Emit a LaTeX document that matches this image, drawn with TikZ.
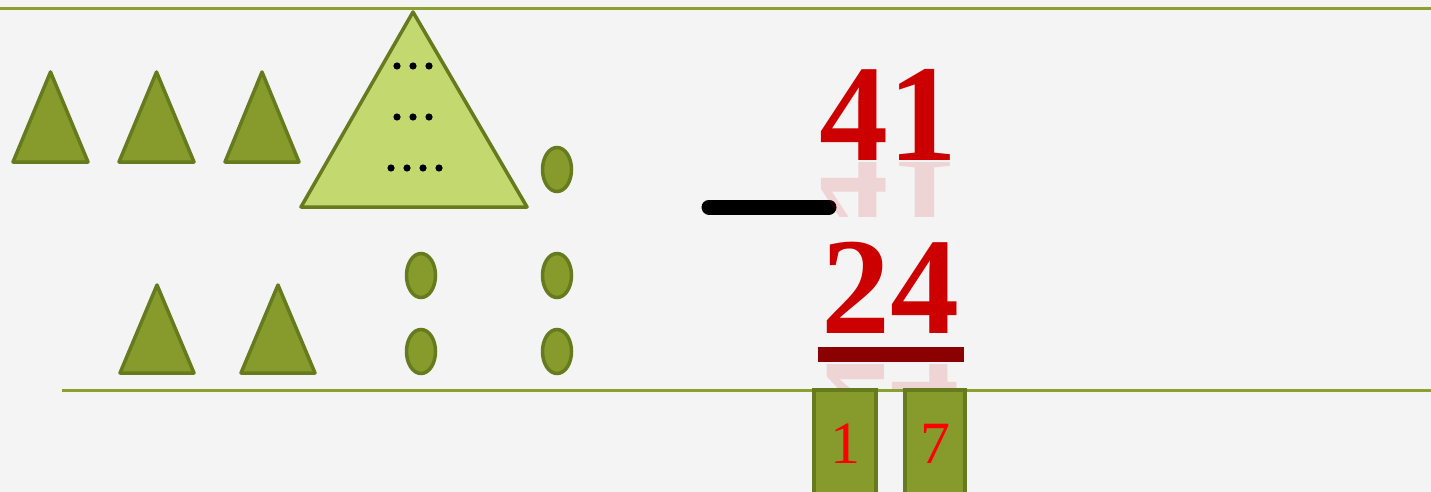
\documentclass[tikz,border=0pt]{standalone}
\usepackage{fontspec}
\setmainfont{Liberation Serif}
\usetikzlibrary{shapes.geometric}
\definecolor{bgc}{HTML}{F4F4F4}
\definecolor{olive}{HTML}{879B2C}
\definecolor{oliveedge}{HTML}{667A1E}
\definecolor{lightolive}{HTML}{C3D86F}
\definecolor{rulec}{HTML}{8AA12F}
\definecolor{numred}{HTML}{CC0000}
\definecolor{darkred}{HTML}{8B0000}
\begin{document}
\begin{tikzpicture}[x=1pt,y=-1pt,
  tri/.style={fill=olive,draw=oliveedge,line width=3.5pt,line join=round},
  bigtri/.style={fill=lightolive,draw=oliveedge,line width=3.5pt,line join=round},
  egg/.style={ellipse,fill=olive,draw=oliveedge,line width=3.5pt,minimum width=29pt,minimum height=44pt,inner sep=0pt},
  dotc/.style={fill=black},
  rulel/.style={draw=rulec,line width=3pt},
  bignum/.style={text=numred,font=\fontsize{138}{138}\selectfont\bfseries,inner sep=0pt},
  reflnum/.style={text=numred,font=\fontsize{138}{138}\selectfont\bfseries,inner sep=0pt,opacity=0.13},
  digitbox/.style={fill=olive,draw=oliveedge,line width=3.5pt},
  boxnum/.style={text=red,font=\fontsize{60}{60}\selectfont,inner sep=0pt}]
\useasboundingbox (0,0) rectangle (1431,492);
\fill[bgc] (0,0) rectangle (1431,492);
% rules
\coordinate (tl) at (0,9); \coordinate (tr) at (1431,9);
\coordinate (bl) at (62,390); \coordinate (br) at (1431,390);
\draw[rulel] (tl) -- (tr);
\draw[rulel] (bl) -- (br);
% row 1 triangles
\draw[tri] (50.5,72) -- (88,162) -- (13,162) -- cycle;
\draw[tri] (156.5,72) -- (194,162) -- (119,162) -- cycle;
\draw[tri] (262,72) -- (299,162) -- (225,162) -- cycle;
% big triangle
\draw[bigtri] (413,12) -- (527,207) -- (301,207) -- cycle;
\foreach \x in {397,413,429} { \fill[dotc] (\x,66) circle (3.6); \fill[dotc] (\x,117) circle (3.6); }
\foreach \x in {391,407,423,439} { \fill[dotc] (\x,168) circle (3.6); }
% ellipses
\node[egg] (e0) at (557,169.5) {};
\node[egg] (e1) at (421,275.5) {};
\node[egg] (e2) at (421,351.5) {};
\node[egg] (e3) at (557,275.5) {};
\node[egg] (e4) at (557,351.5) {};
% row 2 triangles
\draw[tri] (157,285) -- (194,373) -- (120,373) -- cycle;
\draw[tri] (278,285) -- (315,373) -- (241,373) -- cycle;
% minus sign
\coordinate (m1) at (709,207); \coordinate (m2) at (829,207);
\draw[black,line width=15pt,line cap=round] (m1) -- (m2);
% reflections
\begin{scope}
  \clip (800,162) rectangle (980,216);
  \node[reflnum,anchor=base,yscale=-1] (r41) at (888,160) {41};
\end{scope}
\begin{scope}
  \clip (800,362) rectangle (980,388);
  \node[reflnum,anchor=base,yscale=-1] (r24) at (890,364) {24};
\end{scope}
% numbers
\node[bignum,anchor=base] (n41) at (888,160) {41};
\node[bignum,anchor=base] (n24) at (890,333) {24};
\fill[darkred] (818,347) rectangle (964,362);
% digit boxes
\draw[digitbox] (814,390) rectangle (876,500);
\draw[digitbox] (905,390) rectangle (965,500);
\node[boxnum,anchor=base] (d1) at (845,463) {1};
\node[boxnum,anchor=base] (d7) at (935,463) {7};
\end{tikzpicture}
\end{document}
